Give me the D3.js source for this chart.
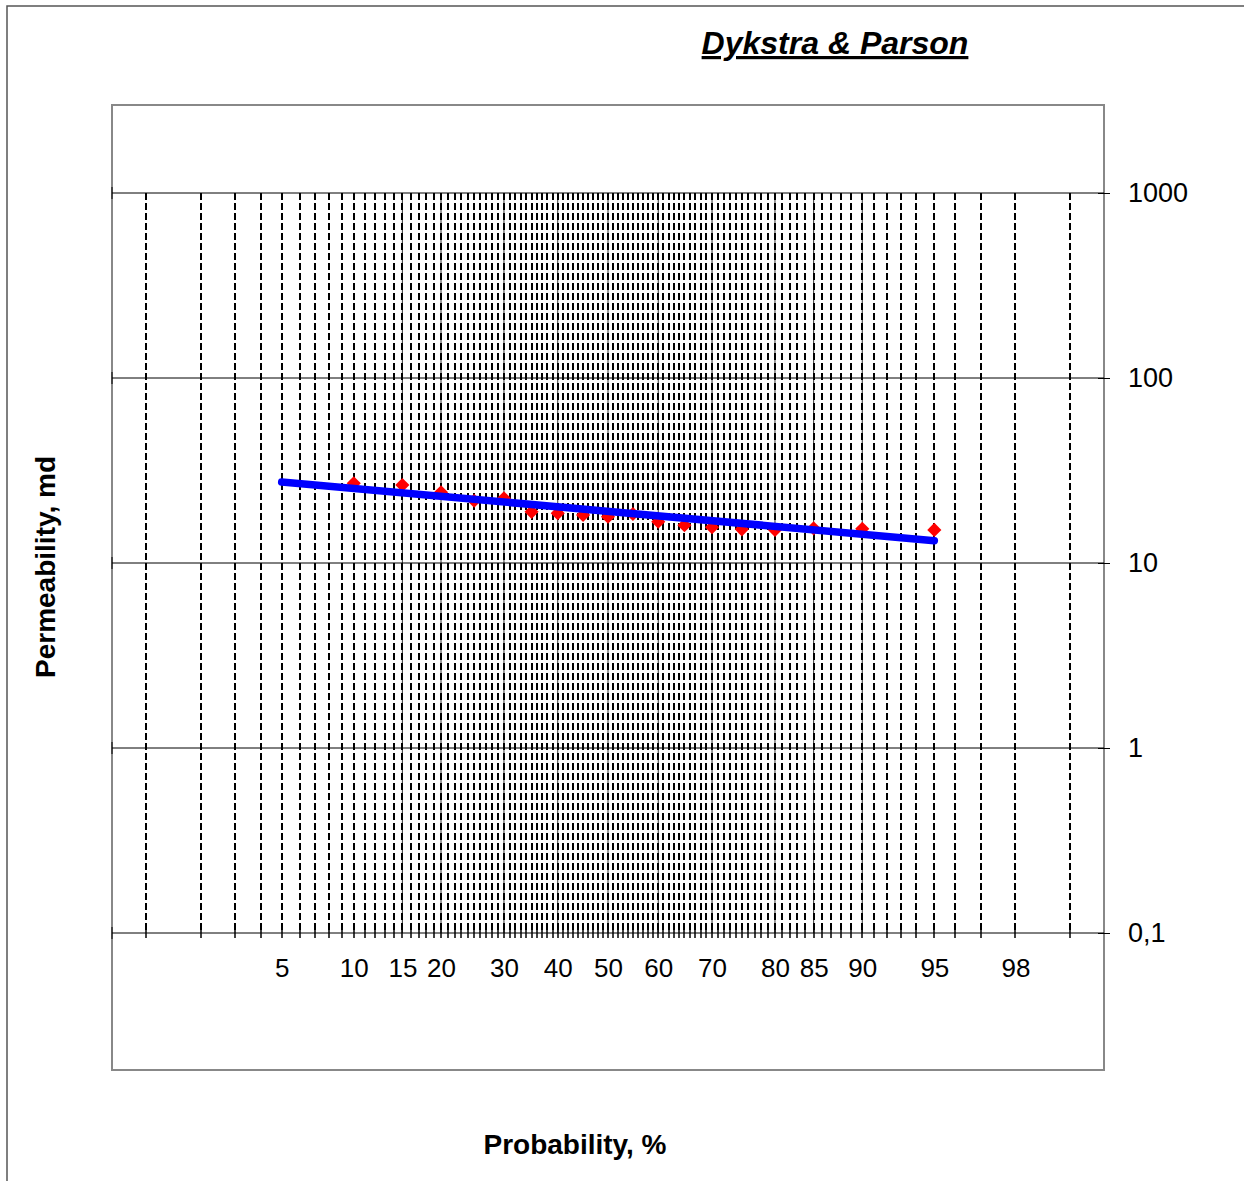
<!DOCTYPE html>
<html>
<head>
<meta charset="utf-8">
<script src="https://cdn.jsdelivr.net/npm/d3@7"></script>
<style>
  body { margin: 0; background: #fff; }
  svg text { font-family: Arial, "Liberation Sans", sans-serif; fill: #000; }
</style>
</head>
<body>
<script>
// measured points (cumulative probability %, permeability md)
var probabilities = [10, 15, 20, 25, 30, 35, 40, 45, 50, 55, 60, 65, 70, 75, 80, 85, 90, 95];
var permeability  = [27.0, 26.4, 24.1, 21.7, 22.4, 18.9, 18.6, 18.2, 17.8, 18.4, 16.7, 16.0, 15.6, 15.2, 15.1, 15.4, 15.3, 15.1];

// fitted straight line (log-normal trend)
var trendProb = [5, 95];
var trendPerm = [27.4, 13.2];

var xTickLabels = [5, 10, 15, 20, 30, 40, 50, 60, 70, 80, 85, 90, 95, 98];
var yTicks = [1000, 100, 10, 1, 0.1];
var gridPercents = d3.range(1, 100);

var width = 1244, height = 1181;
var plot = {left: 112, right: 1104, top: 105, bottom: 1070};

// inverse normal cdf (Acklam)
function probit(p) {
  var a = [-3.969683028665376e+01, 2.209460984245205e+02, -2.759285104469687e+02, 1.383577518672690e+02, -3.066479806614716e+01, 2.506628277459239e+00];
  var b = [-5.447609879822406e+01, 1.615858368580409e+02, -1.556989798598866e+02, 6.680131188771972e+01, -1.328068155288572e+01];
  var c = [-7.784894002430293e-03, -3.223964580411365e-01, -2.400758277161838e+00, -2.549732539343734e+00, 4.374664141464968e+00, 2.938163982698783e+00];
  var d = [7.784695709041462e-03, 3.224671290700398e-01, 2.445134137142996e+00, 3.754408661907416e+00];
  var pl = 0.02425, q, r;
  if (p < pl) {
    q = Math.sqrt(-2 * Math.log(p));
    return (((((c[0]*q+c[1])*q+c[2])*q+c[3])*q+c[4])*q+c[5]) / ((((d[0]*q+d[1])*q+d[2])*q+d[3])*q+1);
  } else if (p <= 1 - pl) {
    q = p - 0.5; r = q * q;
    return (((((a[0]*r+a[1])*r+a[2])*r+a[3])*r+a[4])*r+a[5])*q / (((((b[0]*r+b[1])*r+b[2])*r+b[3])*r+b[4])*r+1);
  }
  q = Math.sqrt(-2 * Math.log(1 - p));
  return -(((((c[0]*q+c[1])*q+c[2])*q+c[3])*q+c[4])*q+c[5]) / ((((d[0]*q+d[1])*q+d[2])*q+d[3])*q+1);
}

var x = d3.scaleLinear().domain([-2.5, 2.5]).range([plot.left, plot.right]);
var y = d3.scaleLog().domain([0.1, 1000]).range([933, 193]);
var px = function(p) { return x(probit(p / 100)); };

var svg = d3.select("body").append("svg")
  .attr("width", width)
  .attr("height", height);

// chart area border
svg.append("rect")
  .attr("x", 7).attr("y", 6)
  .attr("width", width + 20).attr("height", height + 20)
  .attr("fill", "#fff")
  .attr("stroke", "#555")
  .attr("stroke-width", 1.5);

// plot area box
svg.append("rect")
  .attr("x", plot.left).attr("y", plot.top)
  .attr("width", plot.right - plot.left).attr("height", plot.bottom - plot.top)
  .attr("fill", "#fff")
  .attr("stroke", "#888")
  .attr("stroke-width", 2);

// horizontal gridlines
svg.append("g").selectAll("line")
  .data(yTicks)
  .enter().append("line")
    .attr("x1", plot.left).attr("x2", plot.right)
    .attr("y1", d => y(d)).attr("y2", d => y(d))
    .attr("stroke", "#000")
    .attr("stroke-width", 1);

// small ticks on the left edge
svg.append("g").selectAll("line")
  .data(yTicks)
  .enter().append("line")
    .attr("x1", plot.left).attr("x2", plot.left)
    .attr("y1", d => y(d) - 6).attr("y2", d => y(d) + 6)
    .attr("stroke", "#000");

// probability grid: dashed verticals at every percent
svg.append("g").selectAll("line")
  .data(gridPercents)
  .enter().append("line")
    .attr("x1", d => Math.round(px(d))).attr("x2", d => Math.round(px(d)))
    .attr("y1", y(1000)).attr("y2", y(0.1))
    .attr("stroke", "#000")
    .attr("stroke-width", 2)
    .attr("stroke-dasharray", "7,3");

// thin solid lines behind labelled percents
svg.append("g").selectAll("line")
  .data(xTickLabels.filter(d => d >= 15 && d <= 90))
  .enter().append("line")
    .attr("x1", d => px(d)).attr("x2", d => px(d))
    .attr("y1", y(1000)).attr("y2", y(0.1))
    .attr("stroke", "#000")
    .attr("stroke-width", 0.8);

// minor ticks along bottom line
svg.append("g").selectAll("line")
  .data(gridPercents)
  .enter().append("line")
    .attr("x1", d => Math.round(px(d))).attr("x2", d => Math.round(px(d)))
    .attr("y1", y(0.1) - 3).attr("y2", y(0.1) + 5)
    .attr("stroke", "#000")
    .attr("stroke-width", 1.5);

// right axis
var yAxis = svg.append("g")
  .attr("transform", "translate(" + plot.right + ",0)")
  .call(d3.axisRight(y)
    .tickValues(yTicks)
    .tickSize(6)
    .tickPadding(18)
    .tickFormat(d => d < 1 ? String(d).replace(".", ",") : String(d)));
yAxis.select(".domain").remove();
yAxis.selectAll(".tick line").attr("x1", -6).attr("stroke", "#000");
yAxis.selectAll("text")
  .style("font-size", "27px")
  .attr("font-family", null);

// bottom labels
var xAxis = svg.append("g")
  .attr("transform", "translate(0," + y(0.1) + ")")
  .call(d3.axisBottom(x)
    .tickValues(xTickLabels.map(d => probit(d / 100)))
    .tickSize(0)
    .tickPadding(26)
    .tickFormat((d, i) => xTickLabels[i]));
xAxis.select(".domain").remove();
xAxis.selectAll("text")
  .style("font-size", "26px")
  .attr("font-family", null);

// data points
var diamond = d3.symbol().type(d3.symbolSquare).size(100);
svg.append("g").selectAll("path")
  .data(probabilities)
  .enter().append("path")
    .attr("d", diamond)
    .attr("transform", (d, i) => "translate(" + px(d) + "," + y(permeability[i]) + ") rotate(45)")
    .attr("fill", "#ff0000");

// trend line
var line = d3.line()
  .x(d => px(d[0]))
  .y(d => y(d[1]));
svg.append("path")
  .datum(trendProb.map((p, i) => [p, trendPerm[i]]))
  .attr("d", line)
  .attr("fill", "none")
  .attr("stroke", "#0000ff")
  .attr("stroke-width", 7.5)
  .attr("stroke-linecap", "round");

// titles
svg.append("text")
  .attr("x", 835).attr("y", 54)
  .attr("text-anchor", "middle")
  .style("font-size", "32px")
  .style("font-weight", "bold")
  .style("font-style", "italic")
  .style("text-decoration", "underline")
  .text("Dykstra & Parson");

svg.append("text")
  .attr("x", 575).attr("y", 1154)
  .attr("text-anchor", "middle")
  .style("font-size", "28px")
  .style("font-weight", "bold")
  .text("Probability, %");

svg.append("text")
  .attr("transform", "translate(55,567) rotate(-90)")
  .attr("text-anchor", "middle")
  .style("font-size", "28px")
  .style("font-weight", "bold")
  .text("Permeability, md");
</script>
</body>
</html>
